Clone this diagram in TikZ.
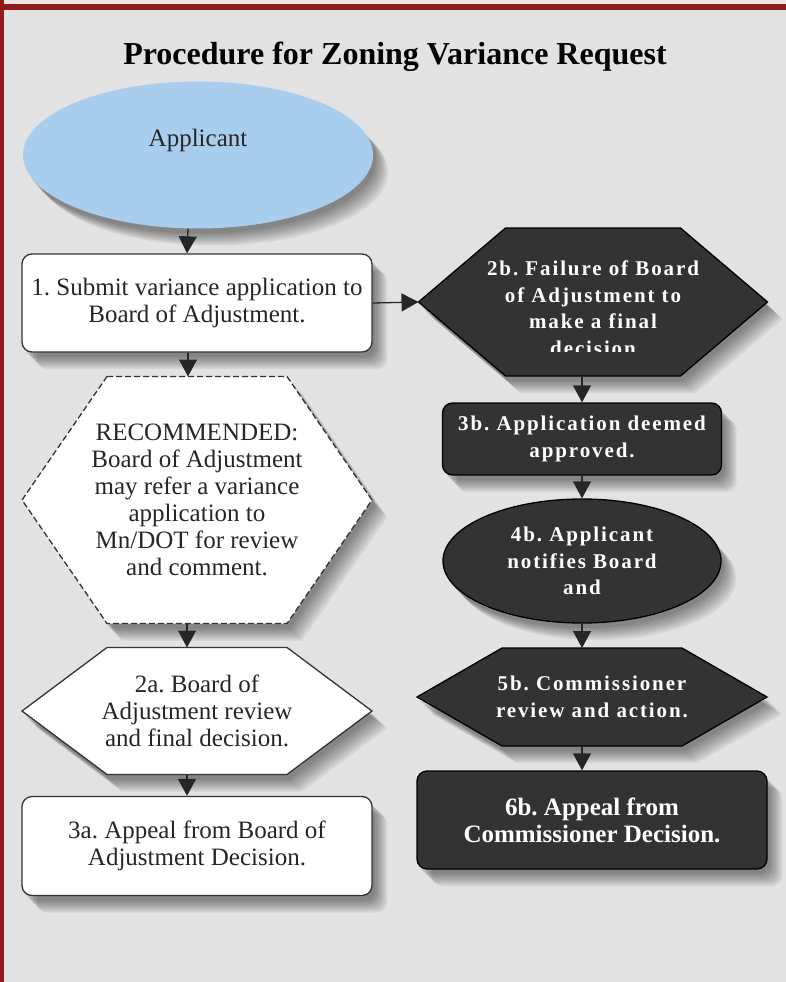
\documentclass[tikz,border=0pt]{standalone}
\usepackage{fontspec}
\setmainfont{Liberation Serif}
\newfontfamily\spacedserif[LetterSpace=9]{Liberation Serif}
\frenchspacing
\usetikzlibrary{arrows.meta,shapes.geometric}
\pgfdeclarelayer{bg}
\pgfsetlayers{bg,main}

\definecolor{pagegray}{HTML}{E2E2E2}
\definecolor{edgepink}{HTML}{EEE6E6}
\definecolor{borderred}{HTML}{8E1B1E}
\definecolor{skyblue}{HTML}{A9CDEC}
\definecolor{darkfill}{HTML}{333333}

% outline of a hexagon laid over a node
\newcommand{\hexof}[2]{([xshift=#2]#1.north west) -- ([xshift=-#2]#1.north east) -- (#1.east) -- ([xshift=-#2]#1.south east) -- ([xshift=#2]#1.south west) -- (#1.west) -- cycle}

\tikzset{
  shadowpart/.style={preaction={draw=none, fill=black, fill opacity=.07, transform canvas={xshift=#1, yshift=-#1-2pt}}},
  boxshadow/.style={shadowpart=3pt, shadowpart=5pt, shadowpart=7pt, shadowpart=9pt, shadowpart=11pt, shadowpart=13pt, shadowpart=15pt},
  plaintext/.style={font=\fontsize{25}{27}\selectfont, text=black!85},
  darktext/.style={font=\spacedserif\bfseries\fontsize{21}{26.5}\selectfont, text=white},
  stepbox/.style={draw=black!80, line width=1.3pt, rounded corners=10pt, fill=white, boxshadow,
    minimum width=350pt, minimum height=98pt, align=center, plaintext},
  darkbox/.style={stepbox, fill=darkfill, draw=black, darktext},
  hexarea/.style={minimum width=350pt, inner sep=0pt, outer sep=0pt, align=center, plaintext},
  hexline/.style={line width=1.3pt, draw=black!80, boxshadow},
  link/.style={line width=1.3pt, draw=black!85, -{Triangle[length=17pt,width=18pt]}}
}

\begin{document}
\begin{tikzpicture}[x=1pt, y=-1pt]
  \useasboundingbox (0,0) rectangle (786,982);
  \begin{pgfonlayer}{bg}
    \fill[pagegray] (0,0) rectangle (786,982);
    \fill[edgepink] (0,0) rectangle (786,4);
    \fill[borderred] (0,4) rectangle (786,10);
    \fill[borderred] (0,0) rectangle (3.5,982);
  \end{pgfonlayer}

  \node[font=\bfseries\fontsize{32}{36}\selectfont] (title) at (395,57) {Procedure for Zoning Variance Request};

  % left column
  \node[ellipse, fill=skyblue, boxshadow, minimum width=350pt, minimum height=147pt,
    label={[name=apptext, plaintext, yshift=15pt]center:Applicant}] (app) at (198,155) {};
  \node[stepbox] (sub) at (197,303) {1. Submit variance application to\\Board of Adjustment.};
  \node[hexarea, minimum height=247pt] (rec) at (197,500) {RECOMMENDED:\\Board of Adjustment\\may refer a variance\\application to\\Mn/DOT for review\\and comment.};
  \node[hexarea, minimum height=127pt] (board) at (197,711) {2a. Board of\\Adjustment review\\and final decision.};
  \node[stepbox, minimum height=99pt] (appeal) at (197,846) {3a. Appeal from Board of\\Adjustment Decision.};

  % right column
  \node[hexarea, minimum width=349pt, minimum height=148pt] (fail) at (593,302) {};
  \begin{scope}
    \clip (419,228) rectangle (768,351);
    \node[darktext, align=center] (failtext) at (593,308) {2b. Failure of Board\\of Adjustment to\\make a final\\decision};
  \end{scope}
  \node[darkbox, minimum width=279pt, minimum height=72pt] (deemed) at (582,439) {3b. Application deemed\\approved.};
  \node[ellipse, fill=darkfill, draw=black, line width=1.3pt, boxshadow, align=center, darktext,
    minimum width=278pt, minimum height=124pt] (notify) at (582,561) {4b. Applicant\\notifies Board\\and};
  \node[hexarea, darktext, minimum height=98pt] (comm) at (592,697) {5b. Commissioner\\review and action.};
  \node[darkbox, font=\bfseries\fontsize{25}{27}\selectfont] (final) at (592,820) {6b. Appeal from\\Commissioner Decision.};

  \begin{pgfonlayer}{bg}
    \filldraw[hexline, fill=white, dash pattern=on 6pt off 3pt] \hexof{rec}{85pt};
    \filldraw[hexline, fill=white] \hexof{board}{85pt};
    \filldraw[hexline, fill=darkfill, draw=black] \hexof{fail}{87pt};
    \filldraw[hexline, fill=darkfill, draw=black] \hexof{comm}{85pt};
  \end{pgfonlayer}

  \draw[link] ([xshift=-10pt]app.south) -- ([xshift=-10pt]sub.north);
  \draw[link] ([xshift=-9pt]sub.south) -- ([xshift=-9pt]rec.north);
  \draw[link] ([xshift=-10pt]rec.south) -- ([xshift=-10pt]board.north);
  \draw[link] ([xshift=-10pt]board.south) -- ([xshift=-10pt]appeal.north);
  \draw[link] (sub.east) -- (fail.west);
  \draw[link] (fail.south -| deemed.north) -- (deemed.north);
  \draw[link] (deemed.south) -- (notify.north);
  \draw[link] (notify.south) -- (notify.south |- comm.north);
  \draw[link] (comm.south -| notify.south) -- (final.north -| notify.south);
\end{tikzpicture}
\end{document}
